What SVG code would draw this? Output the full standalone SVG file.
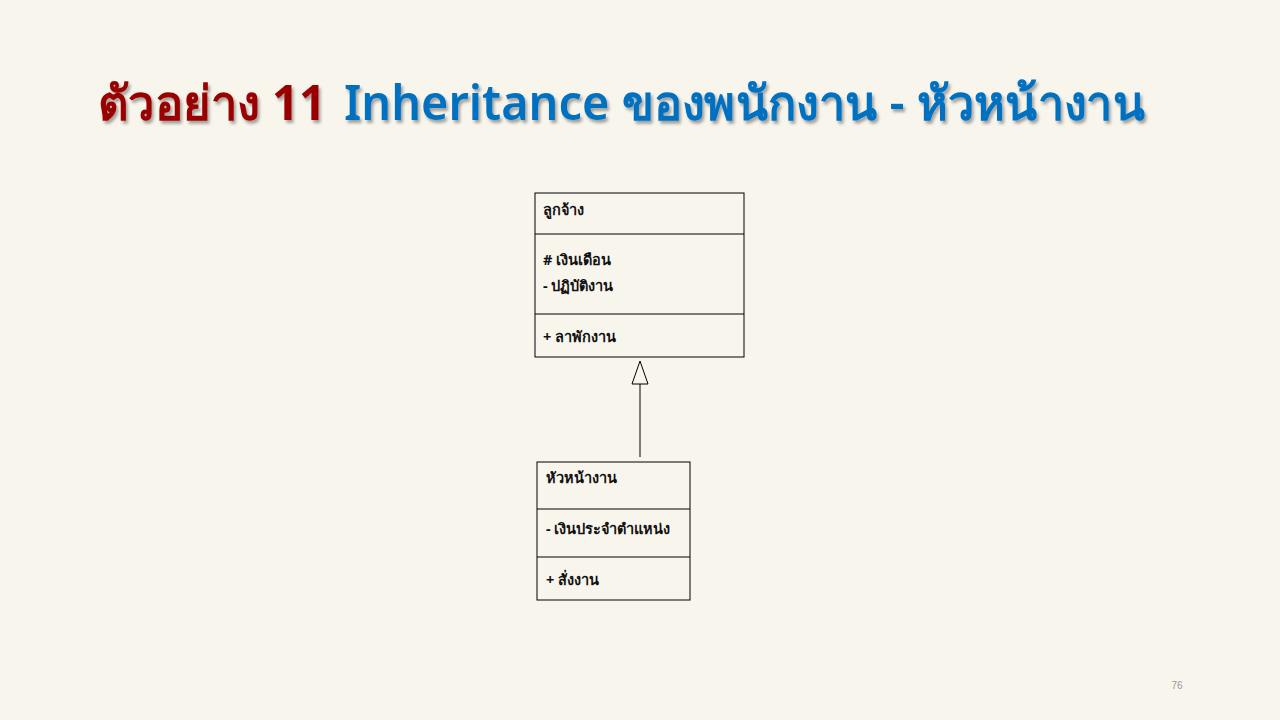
<svg xmlns="http://www.w3.org/2000/svg" width="1280" height="720" viewBox="0 0 1280 720">
<defs>
<style>
.t{font-family:"Noto Sans","DejaVu Sans","Liberation Sans",sans-serif;font-size:14.5px;font-weight:bold;fill:#111}
.box{fill:none;stroke:#000;stroke-width:1}
.title{font-family:"Noto Sans","DejaVu Sans","Liberation Sans",sans-serif;font-size:48px}
</style>
<filter id="sh" x="-5%" y="-20%" width="110%" height="150%">
<feDropShadow dx="2" dy="3" stdDeviation="1.5" flood-color="#000" flood-opacity="0.35"/>
</filter>
</defs>
<rect width="1280" height="720" fill="#f8f5ed"/>
<g id="title" filter="url(#sh)">
<text x="98" y="120" class="title" fill="#990000" font-weight="bold" textLength="228" lengthAdjust="spacingAndGlyphs">ตัวอย่าง 11</text>
<text x="344" y="120" class="title" fill="#0070c0" font-weight="600" textLength="801" lengthAdjust="spacingAndGlyphs">Inheritance ของพนักงาน - หัวหน้างาน</text>
</g>
<g id="employee">
<rect x="535" y="193" width="209" height="164" class="box"/>
<line x1="535" y1="234" x2="744" y2="234" class="box"/>
<line x1="535" y1="314" x2="744" y2="314" class="box"/>
<text x="543" y="215" class="t">ลูกจ้าง</text>
<text x="543" y="265" class="t"># เงินเดือน</text>
<text x="543" y="291" class="t">- ปฏิบัติงาน</text>
<text x="543" y="342" class="t">+ ลาพักงาน</text>
</g>
<g id="supervisor">
<rect x="537" y="462" width="153" height="138" class="box"/>
<line x1="537" y1="509" x2="690" y2="509" class="box"/>
<line x1="537" y1="557" x2="690" y2="557" class="box"/>
<text x="546" y="483" class="t">หัวหน้างาน</text>
<text x="546" y="534" class="t">- เงินประจำตำแหน่ง</text>
<text x="546" y="585" class="t">+ สั่งงาน</text>
</g>
<g id="connectors">
<line x1="640" y1="457" x2="640" y2="384" stroke="#000" stroke-width="1"/>
<polygon points="640,361 632,384 648,384" fill="none" stroke="#000" stroke-width="1"/>
</g>
<text x="1177" y="689" font-family="Liberation Sans, sans-serif" font-size="10" fill="#999" text-anchor="middle">76</text>
</svg>
